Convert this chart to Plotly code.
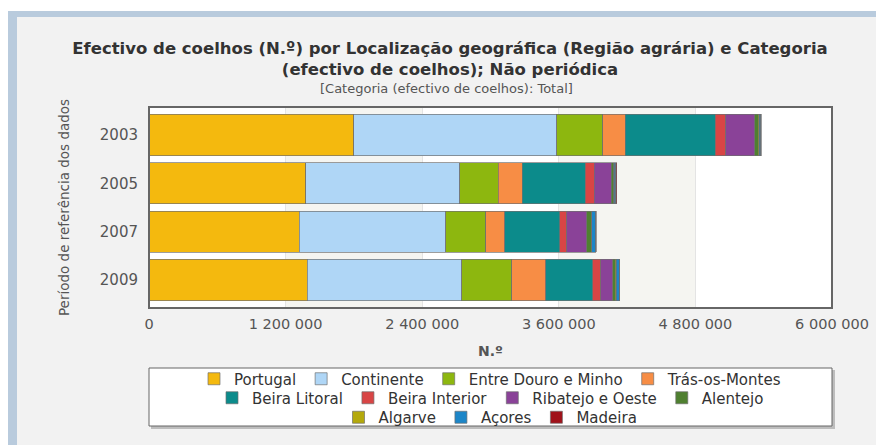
import plotly.graph_objects as go

# Rabbit stock (N.º) by agrarian region, survey years
years = ["2003", "2005", "2007", "2009"]
portugal = [1800000, 1375000, 1322000, 1390000]
continente = [1780000, 1357000, 1283000, 1357000]
entre_douro_minho = [405000, 335000, 354000, 441000]
tras_os_montes = [200000, 212000, 167000, 299000]
beira_litoral = [788000, 552000, 484000, 410000]
beira_interior = [95000, 80000, 59000, 73000]
ribatejo_oeste = [255000, 150000, 176000, 102000]
alentejo = [30000, 22000, 38000, 25000]
algarve = [7000, 6000, 5000, 7000]
acores = [15000, 13000, 35000, 30000]
madeira = [5000, 5000, 4000, 3000]

series_names = ["Portugal", "Continente", "Entre Douro e Minho", "Trás-os-Montes",
                "Beira Litoral", "Beira Interior", "Ribatejo e Oeste", "Alentejo",
                "Algarve", "Açores", "Madeira"]
series_values = [portugal, continente, entre_douro_minho, tras_os_montes,
                 beira_litoral, beira_interior, ribatejo_oeste, alentejo,
                 algarve, acores, madeira]
series_colors = ["#F4B90E", "#AFD6F6", "#8DB70F", "#F78D45", "#0C8B8B", "#D84545",
                 "#8A4298", "#4F8030", "#B4A90C", "#1C86C8", "#A0121A"]
legend_rows = ["legend"] * 4 + ["legend2"] * 4 + ["legend3"] * 3

x_tick_vals = [0, 1200000, 2400000, 3600000, 4800000, 6000000]
x_tick_text = ["0", "1 200 000", "2 400 000", "3 600 000", "4 800 000", "6 000 000"]

FONT = "DejaVu Sans"
W, H = 876, 445
ML, MR, MT, MB = 149, 44, 107, 137
PW, PH = W - ML - MR, H - MT - MB


def px_x(px):
    return (px - ML) / PW


def px_y(py):
    return (H - MB - py) / PH


fig = go.Figure()
for name, vals, col, lg in zip(series_names, series_values, series_colors, legend_rows):
    fig.add_trace(go.Bar(
        y=years, x=vals, name=name, orientation="h",
        marker=dict(color=col, line=dict(color="rgba(110,110,110,0.85)", width=0.8)),
        legend=lg,
    ))

shapes = [
    # outer card frame and panel
    dict(type="rect", xref="paper", yref="paper", x0=px_x(8), x1=px_x(900),
         y0=px_y(11), y1=px_y(470), fillcolor="#B9CBDD", line=dict(width=0), layer="below"),
    dict(type="rect", xref="paper", yref="paper", x0=px_x(17), x1=px_x(900),
         y0=px_y(17), y1=px_y(470), fillcolor="#F2F2F2", line=dict(width=0), layer="below"),
    # plot area background
    dict(type="rect", xref="paper", yref="paper", x0=0, x1=1, y0=0, y1=1,
         fillcolor="white", line=dict(width=0), layer="below"),
]
# alternating value bands
for i in range(1, len(x_tick_vals) - 1, 2):
    shapes.append(dict(type="rect", xref="x", yref="paper", x0=x_tick_vals[i],
                       x1=x_tick_vals[i + 1], y0=0, y1=1, fillcolor="#F5F5F1",
                       line=dict(width=0), layer="below"))
# plot frame
shapes.append(dict(type="rect", xref="paper", yref="paper", x0=0, x1=1, y0=0, y1=1,
                   line=dict(color="#666666", width=2), fillcolor="rgba(0,0,0,0)",
                   layer="above"))
# legend box with shadow
shapes.append(dict(type="rect", xref="paper", yref="paper", x0=px_x(151), x1=px_x(835),
                   y0=px_y(370), y1=px_y(429), fillcolor="rgba(0,0,0,0.22)",
                   line=dict(width=0), layer="below"))
shapes.append(dict(type="rect", xref="paper", yref="paper", x0=px_x(149), x1=px_x(832),
                   y0=px_y(368), y1=px_y(426), fillcolor="white",
                   line=dict(color="#666666", width=1), layer="below"))

legend_common = dict(orientation="h", xref="container", yref="container",
                     xanchor="center", x=490.5 / W, yanchor="middle",
                     traceorder="normal", bgcolor="rgba(0,0,0,0)", borderwidth=0,
                     font=dict(family=FONT, size=15, color="#333333"))

fig.update_layout(
    width=W, height=H,
    margin=dict(l=ML, r=MR, t=MT, b=MB, pad=0, autoexpand=False),
    paper_bgcolor="white", plot_bgcolor="white",
    barmode="stack", bargap=0.15,
    title=dict(
        text="Efectivo de coelhos (N.º) por Localização geográfica (Região agrária) e Categoria"
             "<br>(efectivo de coelhos); Não periódica",
        x=450 / W, xanchor="center", xref="container",
        y=1 - 54 / H, yanchor="middle", yref="container",
        font=dict(family=FONT, size=16.5, color="#333333", weight="bold"),
    ),
    annotations=[dict(
        text="[Categoria (efectivo de coelhos): Total]",
        xref="paper", yref="paper", x=px_x(446), y=px_y(88),
        xanchor="center", yanchor="middle", showarrow=False,
        font=dict(family=FONT, size=13, color="#555555"),
    )],
    xaxis=dict(
        range=[0, 6000000], tickvals=x_tick_vals, ticktext=x_tick_text,
        showgrid=True, gridcolor="#E4E4E4", gridwidth=1, zeroline=False,
        ticks="", ticklabelstandoff=5, automargin=False,
        tickfont=dict(family=FONT, size=14.5, color="#555555"),
        title=dict(text="N.º", standoff=15,
                   font=dict(family=FONT, size=14, color="#555555", weight="bold")),
    ),
    yaxis=dict(
        type="category", categoryorder="array", categoryarray=years,
        range=[3.58, -0.58], showgrid=False, zeroline=False,
        ticks="", ticklabelstandoff=10, automargin=False,
        tickfont=dict(family=FONT, size=15, color="#555555"),
        title=dict(text="Período de referência dos dados", standoff=27,
                   font=dict(family=FONT, size=13.5, color="#555555")),
    ),
    legend=dict(legend_common, y=1 - 379 / H),
    legend2=dict(legend_common, y=1 - 398 / H),
    legend3=dict(legend_common, y=1 - 417.5 / H),
    shapes=shapes,
    showlegend=True,
)

fig.write_html("out.html")
